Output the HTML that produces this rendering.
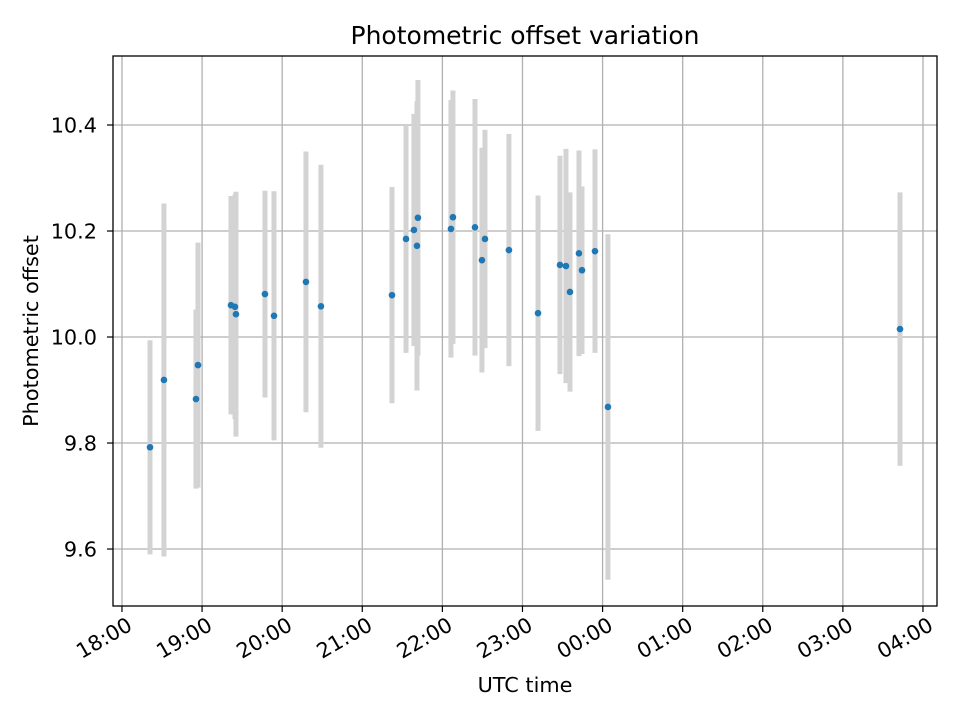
<!DOCTYPE html>
<html><head><meta charset="utf-8"><style>
body{margin:0;background:#fff;font-family:"DejaVu Sans","Liberation Sans",sans-serif}
svg text{font-family:"DejaVu Sans","Liberation Sans",sans-serif;fill:#000}
</style></head><body>
<svg id="chart" width="960" height="720" xmlns="http://www.w3.org/2000/svg">
<rect width="960" height="720" fill="#fff"/>
<g id="grid"></g><g id="bars"></g><g id="pts"></g><g id="axes"></g>
<text x="525" y="44" style="font-size:25px" text-anchor="middle">Photometric offset variation</text>
<text x="525" y="692" style="font-size:20.8px" text-anchor="middle">UTC time</text>
<text transform="translate(38,331) rotate(-90)" style="font-size:20.8px" text-anchor="middle">Photometric offset</text>
</svg>
<script>
// hours since 18:00 UTC
const times=[0.350,0.524,0.924,0.949,1.361,1.411,1.423,1.785,1.898,2.297,2.484,3.371,3.546,3.645,3.683,3.695,4.107,4.132,4.407,4.494,4.532,4.831,5.194,5.468,5.543,5.593,5.705,5.743,5.905,6.067,9.713];
const values=[9.792,9.919,9.883,9.947,10.060,10.057,10.043,10.081,10.040,10.104,10.058,10.079,10.185,10.202,10.172,10.225,10.204,10.226,10.207,10.145,10.185,10.164,10.045,10.136,10.134,10.085,10.158,10.126,10.162,9.868,10.015];
const errors=[0.202,0.333,0.169,0.231,0.206,0.212,0.231,0.195,0.235,0.246,0.267,0.204,0.215,0.219,0.273,0.26,0.243,0.239,0.242,0.212,0.206,0.219,0.222,0.206,0.221,0.188,0.194,0.158,0.192,0.326,0.258];
const xTickLabels=["18:00","19:00","20:00","21:00","22:00","23:00","00:00","01:00","02:00","03:00","04:00"];
const yTicks=[9.6,9.8,10.0,10.2,10.4];
const L=113,R=937,T=56,B=606;
const xMin=-0.112,xMax=10.175,yMin=9.4925,yMax=10.5302;
const X=h=>L+(h-xMin)/(xMax-xMin)*(R-L);
const Y=v=>B-(v-yMin)/(yMax-yMin)*(B-T);
const NS="http://www.w3.org/2000/svg";
function mk(p,tag,a){const e=document.createElementNS(NS,tag);for(const k in a)e.setAttribute(k,a[k]);document.getElementById(p).appendChild(e);return e;}
xTickLabels.forEach((lab,i)=>{
  const x=X(i);
  const g=mk('grid','line',{x1:x,x2:x,y1:T,y2:B,stroke:'#b0b0b0','stroke-width':1.3});
  
  
  const t=mk('axes','line',{x1:x,x2:x,y1:B,y2:B+6,stroke:'#000','stroke-width':1.2});
  
  
  const tx=mk('axes','text',{transform:`translate(${x+4},${B+10}) rotate(-30)`,style:'font-size:20.8px','text-anchor':'end','dominant-baseline':'hanging'});
  tx.textContent=lab;
  
  
});
yTicks.forEach(v=>{
  const y=Y(v);
  const g=mk('grid','line',{x1:L,x2:R,y1:y,y2:y,stroke:'#b0b0b0','stroke-width':1.3});
  
  
  const t=mk('axes','line',{x1:L-6,x2:L,y1:y,y2:y,stroke:'#000','stroke-width':1.2});
  
  
  const tx=mk('axes','text',{x:L-16,y:y+7.5,style:'font-size:20.8px','text-anchor':'end'});
  tx.textContent=v.toFixed(1);
  
  
});
const fr=mk('axes','rect',{x:L,y:T,width:R-L,height:B-T,fill:'none',stroke:'#000','stroke-width':1.3});


times.forEach((h,i)=>{
  const x=X(h);
  const b=mk('bars','line',{x1:x,x2:x,y1:Y(values[i]+errors[i]),y2:Y(values[i]-errors[i]),stroke:'#d3d3d3','stroke-width':5});
  
  
  const c=mk('pts','circle',{cx:x,cy:Y(values[i]),r:3.3,fill:'#1f77b4'});
  
  
});
</script>
</body></html>
